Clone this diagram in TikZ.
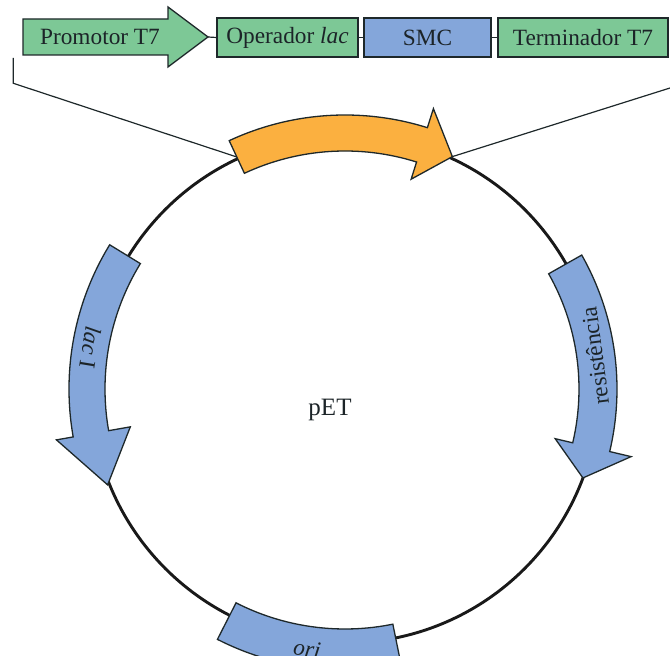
\documentclass[tikz,border=0pt]{standalone}
\usepackage{fontspec}
\setmainfont{Liberation Serif}
\usetikzlibrary{calc}
\definecolor{genegreen}{RGB}{125,200,150}
\definecolor{geneblue}{RGB}{132,166,218}
\definecolor{geneorange}{RGB}{251,176,64}
\definecolor{edgedark}{RGB}{30,40,42}
\definecolor{textdark}{RGB}{28,36,40}
\begin{document}
\begin{tikzpicture}[x=1pt,y=1pt,
  lbl/.style={font=\fontsize{23.3}{28}\selectfont, text=textdark, inner sep=0pt},
  part/.style={draw=edgedark, line width=1.3pt, fill=#1},
  partbox/.style={part=#1, rectangle, minimum height=39pt, inner sep=0pt,
    font=\fontsize{23.3}{28}\selectfont, text=textdark},
  link/.style={draw=edgedark, line width=1.2pt},
  backbone/.style={draw=black!90, line width=2.9pt}]
\useasboundingbox (0,0) rectangle (670,656);
\clip (0,0) rectangle (670,656);

% ---- expression cassette ----
\draw[part=genegreen] (23,601) -- (168,601) -- (168,589) -- (208,619)
  -- (168,649) -- (168,637) -- (23,637) -- cycle;
\node[lbl] (prom) at (100,619) {Promotor T7};
\coordinate (promtip) at (208,619);
\node[partbox=genegreen, minimum width=141pt] (op) at (287.5,618.5) {Operador \textit{lac}};
\node[partbox=geneblue, minimum width=127pt] (smc) at (427.5,618.5) {SMC};
\node[partbox=genegreen, minimum width=170pt] (term) at (583,618.5) {Terminador T7};
\draw[link] (promtip) -- (op.west);
\draw[link] (op.east) -- (smc.west);
\draw[link] (smc.east) -- (term.west);

% ---- plasmid map ----
\begin{scope}[shift={(345,267)}]
  \coordinate (ctr) at (0,0);
  \draw[backbone] (ctr) circle[radius=254];

  % inserted cassette
  \draw[part=geneorange] (115:274) arc[start angle=115, end angle=72.5, radius=274]
    -- (72.5:294) -- (65.2:256) -- (72.5:220) -- (72.5:238)
    arc[start angle=72.5, end angle=115, radius=238] -- cycle;
  \coordinate (insL) at (115:256);
  \coordinate (insR) at (65.2:256);

  % lac I
  \draw[part=geneblue] (148.5:276) arc[start angle=148.5, end angle=190, radius=276]
    -- (190:293) -- (202:256) -- (190:218) -- (190:240)
    arc[start angle=190, end angle=148.5, radius=240] -- cycle;
  \node[lbl, rotate=260.7] (laci) at (170.7:258) {\textit{lac} I};

  % resistance gene
  \draw[part=geneblue] (29.5:272) arc[start angle=29.5, end angle=-13.3, radius=272]
    -- (-13.3:294) -- (-20.5:254) -- (-13.3:216) -- (-13.3:234)
    arc[start angle=-13.3, end angle=29.5, radius=234] -- cycle;
  \node[lbl, rotate=97.5] (res) at (7.5:252) {resistência};

  % origin of replication
  \draw[part=geneblue] (-117:281) arc[start angle=-117, end angle=-78.5, radius=281]
    -- (-78.5:240) arc[start angle=-78.5, end angle=-117, radius=240] -- cycle;
  \node[lbl, rotate=-8] (ori) at (-98.3:263) {\textit{ori}};
\end{scope}

\node[lbl, font=\fontsize{25}{30}\selectfont] (pet) at (330,246) {pET};

% ---- leader lines from the cassette to the map ----
\coordinate (legL1) at (13.3,598);
\coordinate (legL2) at (13.3,572.7);
\coordinate (legR) at (670,568);
\draw[link] (legL1) -- (legL2) -- (insL);
\draw[link] (legR) -- (insR);
\end{tikzpicture}
\end{document}
